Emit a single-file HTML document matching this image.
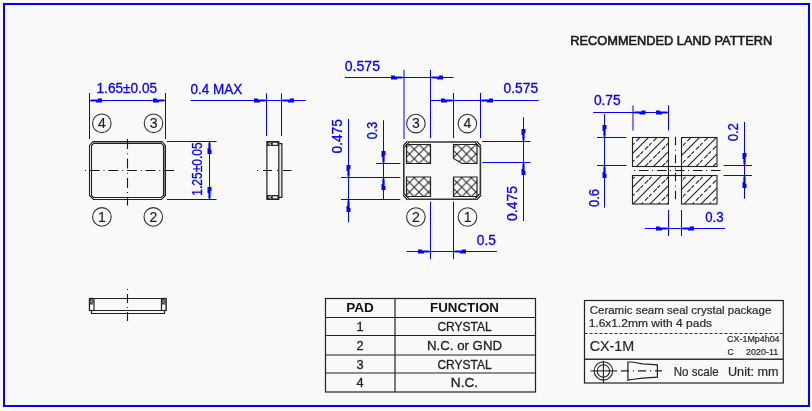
<!DOCTYPE html>
<html><head><meta charset="utf-8"><style>
html,body{margin:0;padding:0;background:#f9f9f9;}
body{width:812px;height:411px;overflow:hidden;}
svg{display:block;will-change:transform;}
text{font-family:"Liberation Sans",sans-serif;}
</style></head><body>
<svg width="812" height="411" viewBox="0 0 812 411">
<rect x="4" y="4" width="805" height="402" fill="none" stroke="#0000ff" stroke-width="2"/>
<line x1="89.5" y1="93" x2="89.5" y2="139" stroke="#0000ff" stroke-width="1" />
<line x1="165.5" y1="93" x2="165.5" y2="139" stroke="#0000ff" stroke-width="1" />
<line x1="89.5" y1="100.5" x2="165.5" y2="100.5" stroke="#0000ff" stroke-width="1" />
<polygon points="89.50,100.00 92.00,99.40 98.00,99.40 98.00,98.50 102.00,98.50 102.00,102.50 96.00,102.50 96.00,101.60 92.00,101.60 89.50,101.00" fill="#0000ff"/>
<polygon points="165.50,100.00 163.00,99.40 157.00,99.40 157.00,98.50 153.00,98.50 153.00,102.50 159.00,102.50 159.00,101.60 163.00,101.60 165.50,101.00" fill="#0000ff"/>
<text x="126.8" y="93.2" font-size="14" fill="#0000ff" text-anchor="middle" font-weight="normal" textLength="60.5" lengthAdjust="spacingAndGlyphs"  stroke="#0000ff" stroke-width="0.3">1.65±0.05</text>
<circle cx="101.8" cy="123.3" r="9.3" stroke="#333" stroke-width="1.1" fill="none"/>
<text x="101.89999999999999" y="127.89999999999999" font-size="14" fill="#222" text-anchor="middle" font-weight="normal"  stroke="#222" stroke-width="0.15">4</text>
<circle cx="153.5" cy="123.3" r="9.3" stroke="#333" stroke-width="1.1" fill="none"/>
<text x="153.6" y="127.89999999999999" font-size="14" fill="#222" text-anchor="middle" font-weight="normal"  stroke="#222" stroke-width="0.15">3</text>
<circle cx="101.9" cy="216.9" r="9.3" stroke="#333" stroke-width="1.1" fill="none"/>
<text x="102.0" y="221.5" font-size="14" fill="#222" text-anchor="middle" font-weight="normal"  stroke="#222" stroke-width="0.15">1</text>
<circle cx="153.3" cy="216.9" r="9.3" stroke="#333" stroke-width="1.1" fill="none"/>
<text x="153.4" y="221.5" font-size="14" fill="#222" text-anchor="middle" font-weight="normal"  stroke="#222" stroke-width="0.15">2</text>
<rect x="93" y="141" width="69" height="3" fill="#8a8a8a"/>
<rect x="163" y="145" width="3" height="51" fill="#8a8a8a"/>
<path d="M93,141.5 L162,141.5 L165.5,145.5 L165.5,195.5 L161.5,199.5 L93.5,199.5 L89.5,195.5 L89.5,145.5 Z" stroke="#222" stroke-width="1.1" fill="none" />
<path d="M93.5,143.5 L161.5,143.5 L163.5,145.5 L163.5,195.5 L161,197.5 L93.5,197.5 L91.5,195.5 L91.5,145.5 Z" stroke="#222" stroke-width="1.1" fill="none" />
<line x1="84.9" y1="170.5" x2="174.1" y2="170.5" stroke="#1a1a1a" stroke-width="1.1" stroke-dasharray="1 3.8 10 3.8"/>
<line x1="127.5" y1="139.1" x2="127.5" y2="205.5" stroke="#1a1a1a" stroke-width="1.1" stroke-dasharray="10 4.2 1 4.2"/>
<line x1="167" y1="141.5" x2="216.5" y2="141.5" stroke="#0000ff" stroke-width="1" />
<line x1="167" y1="199.5" x2="216.5" y2="199.5" stroke="#0000ff" stroke-width="1" />
<line x1="209.5" y1="141.5" x2="209.5" y2="199.5" stroke="#0000ff" stroke-width="1" />
<polygon points="210.00,141.50 210.60,144.00 210.60,150.00 211.50,150.00 211.50,154.00 207.50,154.00 207.50,148.00 208.40,148.00 208.40,144.00 209.00,141.50" fill="#0000ff"/>
<polygon points="210.00,199.50 210.60,197.00 210.60,191.00 211.50,191.00 211.50,187.00 207.50,187.00 207.50,193.00 208.40,193.00 208.40,197.00 209.00,199.50" fill="#0000ff"/>
<text x="201.8" y="169" font-size="14" fill="#0000ff" text-anchor="middle" font-weight="normal" textLength="53.6" lengthAdjust="spacingAndGlyphs" transform="rotate(-90 201.8 169)"  stroke="#0000ff" stroke-width="0.3">1.25±0.05</text>
<line x1="266.5" y1="93.3" x2="266.5" y2="136" stroke="#0000ff" stroke-width="1" />
<line x1="281.5" y1="93.3" x2="281.5" y2="136" stroke="#0000ff" stroke-width="1" />
<line x1="190.6" y1="100.5" x2="305.7" y2="100.5" stroke="#0000ff" stroke-width="1" />
<polygon points="266.50,100.00 264.00,99.40 258.00,99.40 258.00,98.50 254.00,98.50 254.00,102.50 260.00,102.50 260.00,101.60 264.00,101.60 266.50,101.00" fill="#0000ff"/>
<polygon points="281.50,100.00 284.00,99.40 290.00,99.40 290.00,98.50 294.00,98.50 294.00,102.50 288.00,102.50 288.00,101.60 284.00,101.60 281.50,101.00" fill="#0000ff"/>
<text x="190.6" y="93.5" font-size="14" fill="#0000ff" text-anchor="start" font-weight="normal" textLength="51.7" lengthAdjust="spacingAndGlyphs"  stroke="#0000ff" stroke-width="0.3">0.4 MAX</text>
<rect x="279" y="144" width="3" height="53" fill="#e6e6e6"/>
<path d="M266.9,141.5 L278.8,141.5 L278.8,199.5 L266.9,199.5 Z" stroke="#222" stroke-width="1.2" fill="none" />
<path d="M278.8,143.6 L281.9,143.6 L281.9,197.3 L278.8,197.3" stroke="#222" stroke-width="1.2" fill="none" />
<rect x="266.9" y="141.5" width="11.9" height="4.5" fill="#2a2a2a"/>
<rect x="272.8" y="142.8" width="4.6" height="2" fill="#f4f4f4"/>
<path d="M271.2,142.5 L268.6,143.75 L271.2,145.0" stroke="#eee" stroke-width="0.9" fill="none"/>
<rect x="266.9" y="195.0" width="11.9" height="4.5" fill="#2a2a2a"/>
<rect x="272.8" y="196.3" width="4.6" height="2" fill="#f4f4f4"/>
<path d="M271.2,196.0 L268.6,197.25 L271.2,198.5" stroke="#eee" stroke-width="0.9" fill="none"/>
<line x1="257" y1="170.5" x2="291.5" y2="170.5" stroke="#1a1a1a" stroke-width="1.1" stroke-dasharray="1 5 9 5"/>
<path d="M89.5,298.5 L166,298.5 L166,310.5 L89.5,310.5 Z" stroke="#222" stroke-width="1.2" fill="none" />
<path d="M91.5,310.5 L91.5,313.5 L164.5,313.5 L164.5,310.5" stroke="#222" stroke-width="1.1" fill="none" />
<rect x="89.5" y="298.5" width="4.5" height="12" fill="#fff" stroke="#222" stroke-width="1.2"/>
<rect x="90.0" y="299" width="3.5" height="5.5" fill="#444"/>
<path d="M92.5,299.8 L90.8,301.5 L92.5,303.2" stroke="#ddd" stroke-width="0.8" fill="none"/>
<rect x="161.5" y="298.5" width="4.5" height="12" fill="#fff" stroke="#222" stroke-width="1.2"/>
<rect x="162.0" y="299" width="3.5" height="5.5" fill="#444"/>
<path d="M164.5,299.8 L162.8,301.5 L164.5,303.2" stroke="#ddd" stroke-width="0.8" fill="none"/>
<line x1="127.5" y1="289" x2="127.5" y2="322" stroke="#1a1a1a" stroke-width="1.1" stroke-dasharray="1 4 9 4"/>
<line x1="404" y1="69.8" x2="404" y2="139" stroke="#0000ff" stroke-width="1" />
<line x1="430.5" y1="69.8" x2="430.5" y2="138" stroke="#0000ff" stroke-width="1" />
<line x1="453.5" y1="93" x2="453.5" y2="138" stroke="#0000ff" stroke-width="1" />
<line x1="480.5" y1="93" x2="480.5" y2="138" stroke="#0000ff" stroke-width="1" />
<line x1="344.8" y1="77.5" x2="453.6" y2="77.5" stroke="#0000ff" stroke-width="1" />
<polygon points="403.50,77.00 401.00,76.40 395.00,76.40 395.00,75.50 391.00,75.50 391.00,79.50 397.00,79.50 397.00,78.60 401.00,78.60 403.50,78.00" fill="#0000ff"/>
<polygon points="430.50,77.00 433.00,76.40 439.00,76.40 439.00,75.50 443.00,75.50 443.00,79.50 437.00,79.50 437.00,78.60 433.00,78.60 430.50,78.00" fill="#0000ff"/>
<text x="344.8" y="70.6" font-size="14" fill="#0000ff" text-anchor="start" font-weight="normal" textLength="35.2" lengthAdjust="spacingAndGlyphs"  stroke="#0000ff" stroke-width="0.3">0.575</text>
<line x1="430.5" y1="100.5" x2="538.6" y2="100.5" stroke="#0000ff" stroke-width="1" />
<polygon points="453.50,100.00 451.00,99.40 445.00,99.40 445.00,98.50 441.00,98.50 441.00,102.50 447.00,102.50 447.00,101.60 451.00,101.60 453.50,101.00" fill="#0000ff"/>
<polygon points="480.50,100.00 483.00,99.40 489.00,99.40 489.00,98.50 493.00,98.50 493.00,102.50 487.00,102.50 487.00,101.60 483.00,101.60 480.50,101.00" fill="#0000ff"/>
<text x="503.6" y="92.9" font-size="14" fill="#0000ff" text-anchor="start" font-weight="normal" textLength="34.5" lengthAdjust="spacingAndGlyphs"  stroke="#0000ff" stroke-width="0.3">0.575</text>
<circle cx="415.9" cy="123.6" r="9.3" stroke="#333" stroke-width="1.1" fill="none"/>
<text x="416.0" y="128.2" font-size="14" fill="#222" text-anchor="middle" font-weight="normal"  stroke="#222" stroke-width="0.15">3</text>
<circle cx="467.4" cy="123.6" r="9.3" stroke="#333" stroke-width="1.1" fill="none"/>
<text x="467.5" y="128.2" font-size="14" fill="#222" text-anchor="middle" font-weight="normal"  stroke="#222" stroke-width="0.15">4</text>
<circle cx="415.9" cy="217" r="9.3" stroke="#333" stroke-width="1.1" fill="none"/>
<text x="416.0" y="221.6" font-size="14" fill="#222" text-anchor="middle" font-weight="normal"  stroke="#222" stroke-width="0.15">2</text>
<circle cx="467.5" cy="217" r="9.3" stroke="#333" stroke-width="1.1" fill="none"/>
<text x="467.6" y="221.6" font-size="14" fill="#222" text-anchor="middle" font-weight="normal"  stroke="#222" stroke-width="0.15">1</text>
<path d="M408,142 L476,142 L480.4,146.5 L480.4,194.5 L476,199.2 L408,199.2 L403.8,194.5 L403.8,146.5 Z" stroke="#333" stroke-width="1.6" fill="none" />
<path d="M403.8,146.5 L408,142" stroke="#222" stroke-width="3.2" fill="none" />
<path d="M403.8,146.5 L408,142" stroke="#ddd" stroke-width="1.0" fill="none" />
<path d="M476,142 L480.4,146.5" stroke="#222" stroke-width="3.2" fill="none" />
<path d="M476,142 L480.4,146.5" stroke="#ddd" stroke-width="1.0" fill="none" />
<path d="M480.4,194.5 L476,199.2" stroke="#222" stroke-width="3.2" fill="none" />
<path d="M480.4,194.5 L476,199.2" stroke="#ddd" stroke-width="1.0" fill="none" />
<path d="M408,199.2 L403.8,194.5" stroke="#222" stroke-width="3.2" fill="none" />
<path d="M408,199.2 L403.8,194.5" stroke="#ddd" stroke-width="1.0" fill="none" />
<defs><pattern id="xh" patternUnits="userSpaceOnUse" x="1" y="2" width="9.5" height="9.5"><path d="M-1,-1 L10.5,10.5 M10.5,-1 L-1,10.5" stroke="#2a2a2a" stroke-width="1.1"/></pattern><pattern id="sh" patternUnits="userSpaceOnUse" x="3" y="1" width="17" height="17"><path d="M-1,18 L18,-1 M-1,1 L1,-1 M16,18 L18,16" stroke="#222" stroke-width="1.1"/><path d="M-1,9.5 L9.5,-1 M7.5,18 L18,7.5" stroke="#222" stroke-width="1.1" stroke-dasharray="5 2.5"/></pattern></defs>
<path d="M406.5,144.5 L430.5,144.5 L430.5,163.5 L406.5,163.5 Z" stroke="#222" stroke-width="1.2" fill="url(#xh)" />
<path d="M453.5,144.5 L477.0,144.5 L477.0,163.5 L462.0,163.5 L453.5,158.5 Z" stroke="#222" stroke-width="1.2" fill="url(#xh)" />
<path d="M406.5,177 L430.5,177 L430.5,196.5 L406.5,196.5 Z" stroke="#222" stroke-width="1.2" fill="url(#xh)" />
<path d="M453.5,177 L477.0,177 L477.0,196.5 L453.5,196.5 Z" stroke="#222" stroke-width="1.2" fill="url(#xh)" />
<line x1="376" y1="163.5" x2="400.3" y2="163.5" stroke="#0000ff" stroke-width="1" />
<line x1="341" y1="177.5" x2="400.3" y2="177.5" stroke="#0000ff" stroke-width="1" />
<line x1="341" y1="199.5" x2="400.3" y2="199.5" stroke="#0000ff" stroke-width="1" />
<line x1="348.5" y1="119" x2="348.5" y2="222.4" stroke="#0000ff" stroke-width="1" />
<polygon points="349.00,177.50 349.60,175.00 349.60,169.00 350.50,169.00 350.50,165.00 346.50,165.00 346.50,171.00 347.40,171.00 347.40,175.00 348.00,177.50" fill="#0000ff"/>
<polygon points="349.00,199.50 349.60,202.00 349.60,208.00 350.50,208.00 350.50,212.00 346.50,212.00 346.50,206.00 347.40,206.00 347.40,202.00 348.00,199.50" fill="#0000ff"/>
<text x="342.5" y="136.3" font-size="14" fill="#0000ff" text-anchor="middle" font-weight="normal" textLength="34.3" lengthAdjust="spacingAndGlyphs" transform="rotate(-90 342.5 136.3)"  stroke="#0000ff" stroke-width="0.3">0.475</text>
<line x1="383.5" y1="120.2" x2="383.5" y2="199.5" stroke="#0000ff" stroke-width="1" />
<polygon points="384.00,163.50 384.60,161.00 384.60,155.00 385.50,155.00 385.50,151.00 381.50,151.00 381.50,157.00 382.40,157.00 382.40,161.00 383.00,163.50" fill="#0000ff"/>
<polygon points="384.00,177.50 384.60,180.00 384.60,186.00 385.50,186.00 385.50,190.00 381.50,190.00 381.50,184.00 382.40,184.00 382.40,180.00 383.00,177.50" fill="#0000ff"/>
<text x="376.8" y="130.5" font-size="14" fill="#0000ff" text-anchor="middle" font-weight="normal" textLength="17.5" lengthAdjust="spacingAndGlyphs" transform="rotate(-90 376.8 130.5)"  stroke="#0000ff" stroke-width="0.3">0.3</text>
<line x1="482.3" y1="141.5" x2="530.5" y2="141.5" stroke="#0000ff" stroke-width="1" />
<line x1="482.3" y1="162.5" x2="530.5" y2="162.5" stroke="#0000ff" stroke-width="1" />
<line x1="523.5" y1="117.3" x2="523.5" y2="221" stroke="#0000ff" stroke-width="1" />
<polygon points="524.00,141.50 524.60,139.00 524.60,133.00 525.50,133.00 525.50,129.00 521.50,129.00 521.50,135.00 522.40,135.00 522.40,139.00 523.00,141.50" fill="#0000ff"/>
<polygon points="524.00,162.50 524.60,165.00 524.60,171.00 525.50,171.00 525.50,175.00 521.50,175.00 521.50,169.00 522.40,169.00 522.40,165.00 523.00,162.50" fill="#0000ff"/>
<text x="517.3" y="203.5" font-size="14" fill="#0000ff" text-anchor="middle" font-weight="normal" textLength="35" lengthAdjust="spacingAndGlyphs" transform="rotate(-90 517.3 203.5)"  stroke="#0000ff" stroke-width="0.3">0.475</text>
<line x1="430.5" y1="201.6" x2="430.5" y2="259.2" stroke="#0000ff" stroke-width="1" />
<line x1="453.5" y1="201.6" x2="453.5" y2="259.2" stroke="#0000ff" stroke-width="1" />
<line x1="406.6" y1="251.5" x2="496.8" y2="251.5" stroke="#0000ff" stroke-width="1" />
<polygon points="430.50,251.00 428.00,250.40 422.00,250.40 422.00,249.50 418.00,249.50 418.00,253.50 424.00,253.50 424.00,252.60 428.00,252.60 430.50,252.00" fill="#0000ff"/>
<polygon points="453.50,251.00 456.00,250.40 462.00,250.40 462.00,249.50 466.00,249.50 466.00,253.50 460.00,253.50 460.00,252.60 456.00,252.60 453.50,252.00" fill="#0000ff"/>
<text x="476.8" y="245" font-size="14" fill="#0000ff" text-anchor="start" font-weight="normal" textLength="19" lengthAdjust="spacingAndGlyphs"  stroke="#0000ff" stroke-width="0.3">0.5</text>
<text x="570.3" y="44.8" font-size="12.8" fill="#1a1a1a" text-anchor="start" font-weight="normal" textLength="202" lengthAdjust="spacingAndGlyphs"  stroke="#1a1a1a" stroke-width="0.6">RECOMMENDED LAND PATTERN</text>
<rect x="632.5" y="137.5" width="36" height="29" fill="url(#sh)" stroke="#222" stroke-width="1.1"/>
<rect x="681.5" y="137.5" width="35.5" height="29" fill="url(#sh)" stroke="#222" stroke-width="1.1"/>
<rect x="632.5" y="175.5" width="36" height="28.5" fill="url(#sh)" stroke="#222" stroke-width="1.1"/>
<rect x="681.5" y="175.5" width="35.5" height="28.5" fill="url(#sh)" stroke="#222" stroke-width="1.1"/>
<line x1="668.5" y1="166.5" x2="681.5" y2="166.5" stroke="#1a1a1a" stroke-width="1.1" />
<line x1="668.5" y1="175.5" x2="681.5" y2="175.5" stroke="#1a1a1a" stroke-width="1.1" />
<line x1="668.5" y1="166.5" x2="668.5" y2="175.5" stroke="#1a1a1a" stroke-width="1.1" />
<line x1="681.5" y1="166.5" x2="681.5" y2="175.5" stroke="#1a1a1a" stroke-width="1.1" />
<line x1="675.5" y1="135" x2="675.5" y2="201" stroke="#1a1a1a" stroke-width="1.1" stroke-dasharray="8.5 4.5 1 4" stroke-dashoffset="16.3"/>
<line x1="631.7" y1="170.5" x2="722" y2="170.5" stroke="#1a1a1a" stroke-width="1.1" stroke-dasharray="9.5 3.5 1 4" stroke-dashoffset="10.7"/>
<line x1="633" y1="105.4" x2="633" y2="130.5" stroke="#0000ff" stroke-width="1" />
<line x1="668.5" y1="105.4" x2="668.5" y2="130.5" stroke="#0000ff" stroke-width="1" />
<line x1="593.1" y1="112.5" x2="668.3" y2="112.5" stroke="#0000ff" stroke-width="1" />
<polygon points="633.00,112.00 635.50,111.40 641.50,111.40 641.50,110.50 645.50,110.50 645.50,114.50 639.50,114.50 639.50,113.60 635.50,113.60 633.00,113.00" fill="#0000ff"/>
<polygon points="668.50,112.00 666.00,111.40 660.00,111.40 660.00,110.50 656.00,110.50 656.00,114.50 662.00,114.50 662.00,113.60 666.00,113.60 668.50,113.00" fill="#0000ff"/>
<text x="593.9" y="105.2" font-size="14" fill="#0000ff" text-anchor="start" font-weight="normal" textLength="26.8" lengthAdjust="spacingAndGlyphs"  stroke="#0000ff" stroke-width="0.3">0.75</text>
<line x1="597" y1="137.5" x2="626.4" y2="137.5" stroke="#0000ff" stroke-width="1" />
<line x1="597" y1="165.5" x2="626.4" y2="165.5" stroke="#0000ff" stroke-width="1" />
<line x1="604.5" y1="114.2" x2="604.5" y2="207.7" stroke="#0000ff" stroke-width="1" />
<polygon points="605.00,137.50 605.60,135.00 605.60,129.00 606.50,129.00 606.50,125.00 602.50,125.00 602.50,131.00 603.40,131.00 603.40,135.00 604.00,137.50" fill="#0000ff"/>
<polygon points="605.00,165.50 605.60,168.00 605.60,174.00 606.50,174.00 606.50,178.00 602.50,178.00 602.50,172.00 603.40,172.00 603.40,168.00 604.00,165.50" fill="#0000ff"/>
<text x="598.6" y="198" font-size="14" fill="#0000ff" text-anchor="middle" font-weight="normal" textLength="18" lengthAdjust="spacingAndGlyphs" transform="rotate(-90 598.6 198)"  stroke="#0000ff" stroke-width="0.3">0.6</text>
<line x1="723.6" y1="165.5" x2="752" y2="165.5" stroke="#0000ff" stroke-width="1" />
<line x1="723.6" y1="175.5" x2="752" y2="175.5" stroke="#0000ff" stroke-width="1" />
<line x1="744.5" y1="122" x2="744.5" y2="198.7" stroke="#0000ff" stroke-width="1" />
<polygon points="745.00,165.50 745.60,163.00 745.60,157.00 746.50,157.00 746.50,153.00 742.50,153.00 742.50,159.00 743.40,159.00 743.40,163.00 744.00,165.50" fill="#0000ff"/>
<polygon points="745.00,175.50 745.60,178.00 745.60,184.00 746.50,184.00 746.50,188.00 742.50,188.00 742.50,182.00 743.40,182.00 743.40,178.00 744.00,175.50" fill="#0000ff"/>
<text x="738.5" y="132.2" font-size="14" fill="#0000ff" text-anchor="middle" font-weight="normal" textLength="18.3" lengthAdjust="spacingAndGlyphs" transform="rotate(-90 738.5 132.2)"  stroke="#0000ff" stroke-width="0.3">0.2</text>
<line x1="668.5" y1="210" x2="668.5" y2="235.9" stroke="#0000ff" stroke-width="1" />
<line x1="681.5" y1="210" x2="681.5" y2="235.9" stroke="#0000ff" stroke-width="1" />
<line x1="644.7" y1="228.5" x2="725" y2="228.5" stroke="#0000ff" stroke-width="1" />
<polygon points="668.50,228.00 666.00,227.40 660.00,227.40 660.00,226.50 656.00,226.50 656.00,230.50 662.00,230.50 662.00,229.60 666.00,229.60 668.50,229.00" fill="#0000ff"/>
<polygon points="681.50,228.00 684.00,227.40 690.00,227.40 690.00,226.50 694.00,226.50 694.00,230.50 688.00,230.50 688.00,229.60 684.00,229.60 681.50,229.00" fill="#0000ff"/>
<text x="705.3" y="222" font-size="14" fill="#0000ff" text-anchor="start" font-weight="normal" textLength="18.3" lengthAdjust="spacingAndGlyphs"  stroke="#0000ff" stroke-width="0.3">0.3</text>
<rect x="325.5" y="298.5" width="210" height="93.5" fill="none" stroke="#222" stroke-width="1.2"/>
<line x1="395" y1="298.5" x2="395" y2="392" stroke="#333" stroke-width="1.3" />
<line x1="325.5" y1="317.5" x2="535.5" y2="317.5" stroke="#222" stroke-width="1.2" />
<line x1="325.5" y1="335.5" x2="535.5" y2="335.5" stroke="#222" stroke-width="1.2" />
<line x1="325.5" y1="355.0" x2="535.5" y2="355.0" stroke="#222" stroke-width="1.2" />
<line x1="325.5" y1="373.0" x2="535.5" y2="373.0" stroke="#222" stroke-width="1.2" />
<text x="360" y="312" font-size="12.8" fill="#111" text-anchor="middle" font-weight="bold" textLength="27.6" lengthAdjust="spacingAndGlyphs" >PAD</text>
<text x="464.5" y="312" font-size="12.8" fill="#111" text-anchor="middle" font-weight="bold" textLength="68.8" lengthAdjust="spacingAndGlyphs" >FUNCTION</text>
<text x="360" y="331.2" font-size="12.8" fill="#222" text-anchor="middle" font-weight="normal"  stroke="#222" stroke-width="0.3">1</text>
<text x="464.5" y="331.2" font-size="12.8" fill="#222" text-anchor="middle" font-weight="normal" textLength="54.2" lengthAdjust="spacingAndGlyphs"  stroke="#222" stroke-width="0.3">CRYSTAL</text>
<text x="360" y="349.8" font-size="12.8" fill="#222" text-anchor="middle" font-weight="normal"  stroke="#222" stroke-width="0.3">2</text>
<text x="464.5" y="349.8" font-size="12.8" fill="#222" text-anchor="middle" font-weight="normal" textLength="75" lengthAdjust="spacingAndGlyphs"  stroke="#222" stroke-width="0.3">N.C. or GND</text>
<text x="360" y="368.5" font-size="12.8" fill="#222" text-anchor="middle" font-weight="normal"  stroke="#222" stroke-width="0.3">3</text>
<text x="464.5" y="368.5" font-size="12.8" fill="#222" text-anchor="middle" font-weight="normal" textLength="54.2" lengthAdjust="spacingAndGlyphs"  stroke="#222" stroke-width="0.3">CRYSTAL</text>
<text x="360" y="387" font-size="12.8" fill="#222" text-anchor="middle" font-weight="normal"  stroke="#222" stroke-width="0.3">4</text>
<text x="464.5" y="387" font-size="12.8" fill="#222" text-anchor="middle" font-weight="normal" textLength="27.3" lengthAdjust="spacingAndGlyphs"  stroke="#222" stroke-width="0.3">N.C.</text>
<rect x="584.5" y="300.5" width="198.8" height="82.5" fill="none" stroke="#222" stroke-width="1.2"/>
<line x1="584.5" y1="333.5" x2="783.3" y2="333.5" stroke="#333" stroke-width="1.1" stroke-dasharray="3 2"/>
<line x1="584.5" y1="359.2" x2="783.3" y2="359.2" stroke="#333" stroke-width="1.5" />
<text x="589.7" y="313.7" font-size="11" fill="#2a2a2a" text-anchor="start" font-weight="normal" textLength="181.6" lengthAdjust="spacingAndGlyphs"  stroke="#2a2a2a" stroke-width="0.2">Ceramic seam seal crystal package</text>
<text x="588.7" y="326.6" font-size="11" fill="#2a2a2a" text-anchor="start" font-weight="normal" textLength="123.4" lengthAdjust="spacingAndGlyphs"  stroke="#2a2a2a" stroke-width="0.2">1.6x1.2mm with 4 pads</text>
<text x="589.7" y="350.7" font-size="14.5" fill="#2a2a2a" text-anchor="start" font-weight="normal" textLength="44.6" lengthAdjust="spacingAndGlyphs"  stroke="#2a2a2a" stroke-width="0.2">CX-1M</text>
<text x="727.1" y="342.4" font-size="8.7" fill="#2a2a2a" text-anchor="start" font-weight="normal" textLength="52.5" lengthAdjust="spacingAndGlyphs"  stroke="#2a2a2a" stroke-width="0.2">CX-1Mp4h04</text>
<text x="727.4" y="354.7" font-size="8.7" fill="#2a2a2a" text-anchor="start" font-weight="normal"  stroke="#2a2a2a" stroke-width="0.2">C</text>
<text x="746" y="354.7" font-size="8.7" fill="#2a2a2a" text-anchor="start" font-weight="normal" textLength="32.2" lengthAdjust="spacingAndGlyphs"  stroke="#2a2a2a" stroke-width="0.2">2020-11</text>
<text x="673.7" y="375.9" font-size="12" fill="#2a2a2a" text-anchor="start" font-weight="normal" textLength="45" lengthAdjust="spacingAndGlyphs"  stroke="#2a2a2a" stroke-width="0.2">No scale</text>
<text x="728" y="375.9" font-size="12" fill="#2a2a2a" text-anchor="start" font-weight="normal" textLength="50.5" lengthAdjust="spacingAndGlyphs"  stroke="#2a2a2a" stroke-width="0.2">Unit: mm</text>
<circle cx="603.4" cy="370.9" r="9.2" stroke="#222" stroke-width="1.1" fill="none"/>
<circle cx="603.4" cy="370.9" r="6.2" stroke="#222" stroke-width="1.1" fill="none"/>
<line x1="590.5" y1="370.9" x2="616" y2="370.9" stroke="#222" stroke-width="1.1" />
<line x1="603.4" y1="360.8" x2="603.4" y2="383" stroke="#222" stroke-width="1.1" />
<path d="M627.9,362 L631.8,362 L642.7,363.9 L657.4,364.9 L657.4,377.2 L642.7,378.2 L631.8,379.5 L627.9,380.2 Z" stroke="#222" stroke-width="1.2" fill="none" />
<line x1="616" y1="370.9" x2="662" y2="370.9" stroke="#222" stroke-width="1.1" stroke-dasharray="1 4 8 4"/>
</svg>
</body></html>
